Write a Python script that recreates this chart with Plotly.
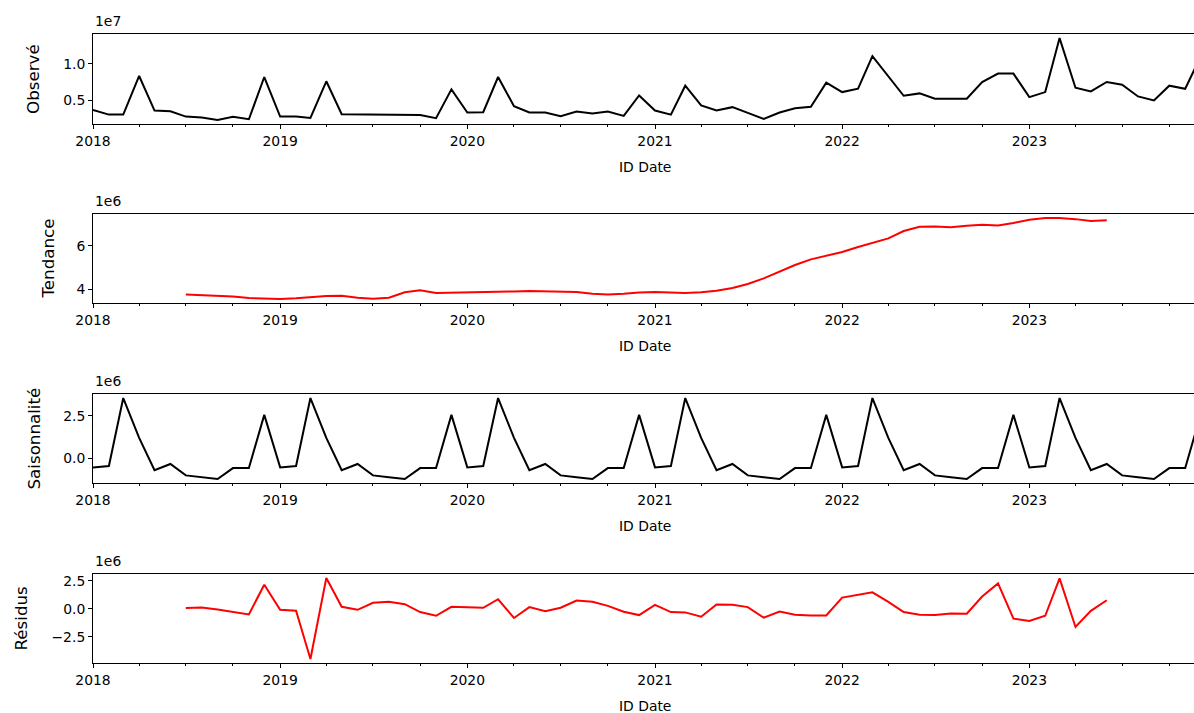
import pandas as pd
import plotly.graph_objects as go

dates = pd.date_range("2018-01-01", periods=72, freq="MS")

observed = [3.66, 3.00, 3.00, 8.33, 3.56, 3.47, 2.73, 2.60, 2.27, 2.69, 2.36, 8.19,
            2.73, 2.73, 2.55, 7.60, 3.06, 3.06, 2.96, 2.96, 2.96, 2.96, 2.50, 6.48,
            3.29, 3.33, 8.19, 4.17, 3.29, 3.29, 2.78, 3.43, 3.15, 3.43, 2.82, 5.65,
            3.56, 3.00, 6.99, 4.26, 3.56, 4.03, 3.24, 2.41, 3.29, 3.89, 4.07, 7.41,
            6.11, 6.57, 11.06, 8.29, 5.60, 5.93, 5.19, 5.19, 5.19, 7.50, 8.66, 8.66,
            5.42, 6.11, 13.56, 6.71, 6.20, 7.50, 7.13, 5.51, 4.95, 6.99, 6.57, 11.0]

trend = [None] * 6 + [
    3.75, 3.72, 3.69, 3.65, 3.58, 3.55,
    3.54, 3.57, 3.63, 3.68, 3.69, 3.60, 3.55, 3.60, 3.85, 3.94, 3.82, 3.83,
    3.83, 3.85, 3.88, 3.89, 3.91, 3.89, 3.88, 3.86, 3.78, 3.75, 3.78, 3.84,
    3.86, 3.85, 3.82, 3.85, 3.92, 4.05, 4.23, 4.49, 4.82, 5.11, 5.37, 5.52,
    5.71, 5.94, 6.14, 6.34, 6.68, 6.88, 6.89, 6.85, 6.92, 6.97, 6.94, 7.05,
    7.20, 7.28, 7.28, 7.23, 7.14, 7.18] + [None] * 6

seasonal = [-0.53, -0.45, 3.55, 1.21, -0.70, -0.33, -1.00, -1.11, -1.21, -0.57, -0.57, 2.56,
            -0.53, -0.45, 3.55, 1.21, -0.70, -0.33, -1.00, -1.11, -1.21, -0.57, -0.57, 2.56,
            -0.53, -0.45, 3.55, 1.21, -0.70, -0.33, -1.00, -1.11, -1.21, -0.57, -0.57, 2.56,
            -0.53, -0.45, 3.55, 1.21, -0.70, -0.33, -1.00, -1.11, -1.21, -0.57, -0.57, 2.56,
            -0.53, -0.45, 3.55, 1.21, -0.70, -0.33, -1.00, -1.11, -1.21, -0.57, -0.57, 2.56,
            -0.53, -0.45, 3.55, 1.21, -0.70, -0.33, -1.00, -1.11, -1.21, -0.57, -0.57, 2.56]

resid = [None] * 6 + [
    0.06, 0.12, -0.06, -0.26, -0.50, 2.15,
    -0.09, -0.18, -4.47, 2.74, 0.18, -0.09, 0.53, 0.62, 0.41, -0.29, -0.62, 0.18,
    0.12, 0.09, 0.85, -0.82, 0.15, -0.21, 0.09, 0.74, 0.62, 0.26, -0.26, -0.56,
    0.35, -0.29, -0.32, -0.71, 0.38, 0.35, 0.15, -0.79, -0.24, -0.53, -0.59, -0.59,
    1.00, 1.24, 1.47, 0.62, -0.29, -0.53, -0.56, -0.41, -0.44, 1.09, 2.26, -0.88,
    -1.09, -0.62, 2.71, -1.62, -0.18, 0.76] + [None] * 6

scale = 1e6
panels = [
    dict(name="Observé", data=observed, color="#000000", offset="1e7",
         tickvals=[5e6, 1e7], ticktext=["0.5", "1.0"], ylab_x=33),
    dict(name="Tendance", data=trend, color="#ff0000", offset="1e6",
         tickvals=[4e6, 6e6], ticktext=["4", "6"], ylab_x=48),
    dict(name="Saisonnalité", data=seasonal, color="#000000", offset="1e6",
         tickvals=[0, 2.5e6], ticktext=["0.0", "2.5"], ylab_x=33),
    dict(name="Résidus", data=resid, color="#ff0000", offset="1e6",
         tickvals=[-2.5e6, 0, 2.5e6], ticktext=["\u22122.5", "0.0", "2.5"], ylab_x=20),
]

# figure slightly wider than the window so the right frame edge falls outside it
W, H = 1197, 713
tops = [34, 214, 394, 574]
bottoms = [124, 303, 483, 663]
left_px = 93
FONT = "DejaVu Sans"

fig = go.Figure()
annotations = []
layout = dict(width=W, height=H, margin=dict(l=0, r=0, t=0, b=0, pad=0, autoexpand=False),
              paper_bgcolor="white", plot_bgcolor="white", showlegend=False,
              font=dict(family=FONT, size=13.9, color="#000000"))

for k, p in enumerate(panels):
    idx = "" if k == 0 else str(k + 1)
    vals = [None if v is None else v * scale for v in p["data"]]
    fig.add_trace(go.Scatter(x=dates, y=vals, mode="lines",
                             line=dict(color=p["color"], width=2),
                             xaxis="x" + idx, yaxis="y" + idx,
                             connectgaps=False, hoverinfo="x+y"))
    finite = [v for v in vals if v is not None]
    lo, hi = min(finite), max(finite)
    m = (hi - lo) * 0.05
    y0 = 1 - bottoms[k] / H
    y1 = 1 - tops[k] / H
    layout["xaxis" + idx] = dict(
        domain=[left_px / W, 1.0], anchor="y" + idx, type="date",
        range=["2018-01-01", "2023-11-24"], automargin=False,
        tick0="2018-01-01", dtick="M12", tickformat="%Y",
        ticks="outside", ticklen=4, tickwidth=1, tickcolor="#000000",
        showline=True, linecolor="#000000", linewidth=1, mirror=True,
        showgrid=False, zeroline=False,
        tickfont=dict(family=FONT, size=13.9, color="#000000"),
        minor=dict(dtick="M3", tick0="2018-01-01", ticks="outside",
                   ticklen=2, tickwidth=0.8, tickcolor="#000000", showgrid=False),
    )
    layout["yaxis" + idx] = dict(
        domain=[y0, y1], anchor="x" + idx, automargin=False,
        range=[lo - m, hi + m],
        tickmode="array", tickvals=p["tickvals"], ticktext=p["ticktext"],
        ticks="outside", ticklen=4, tickwidth=1, tickcolor="#000000",
        showline=True, linecolor="#000000", linewidth=1, mirror=True,
        showgrid=False, zeroline=False,
        tickfont=dict(family=FONT, size=13.9, color="#000000"),
    )
    annotations.append(dict(text=p["name"], textangle=-90, xref="paper", yref="paper",
                            x=p["ylab_x"] / W, y=(y0 + y1) / 2, xanchor="center",
                            yanchor="middle", showarrow=False,
                            font=dict(family=FONT, size=16.7, color="#000000")))
    annotations.append(dict(text=p["offset"], xref="paper", yref="paper",
                            x=left_px / W, y=1 - (tops[k] - 3) / H, xanchor="left",
                            yanchor="bottom", showarrow=False,
                            font=dict(family=FONT, size=13.9, color="#000000")))
    annotations.append(dict(text="ID Date", xref="paper", yref="paper",
                            x=645 / W, y=1 - (bottoms[k] + 43) / H, xanchor="center",
                            yanchor="middle", showarrow=False,
                            font=dict(family=FONT, size=13.9, color="#000000")))

layout["annotations"] = annotations
fig.update_layout(**layout)
fig.write_html("out.html", config={"displayModeBar": False},
               post_script="document.body.style.margin='0';document.body.style.overflow='hidden';")
